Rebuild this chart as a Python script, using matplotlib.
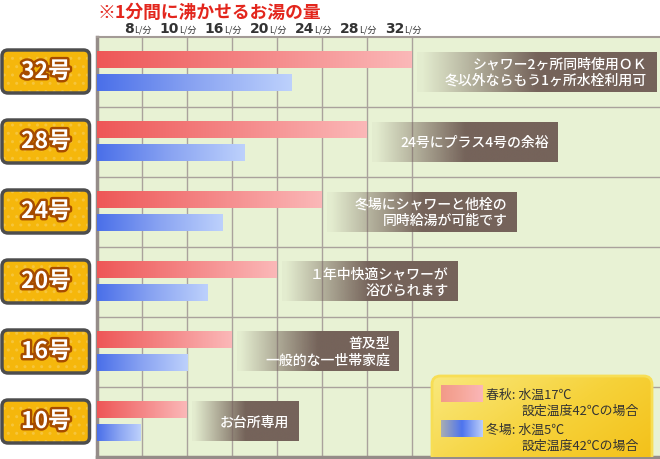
import numpy as np
import matplotlib
matplotlib.use('Agg')
import matplotlib.pyplot as plt
from matplotlib import patches, transforms
import matplotlib.patheffects as pe
from matplotlib.colors import LinearSegmentedColormap, to_rgb

plt.rcParams['font.family'] = ['Noto Sans CJK JP', 'DejaVu Sans']

# 号数と1分間に沸かせるお湯の量 (L/分)
models = ['32号', '28号', '24号', '20号', '16号', '10号']
spring_flow = [32, 28, 24, 20, 16, 10]          # 春秋: 水温17℃
winter_flow = [21.3, 17.1, 14.8, 12.8, 10.1, 7.8]  # 冬場: 水温5℃
tick_flow = [8, 10, 16, 20, 24, 28, 32]
notes = ['シャワー2ヶ所同時使用ＯＫ\n冬以外ならもう1ヶ所水栓利用可',
         '24号にプラス4号の余裕',
         '冬場にシャワーと他栓の\n同時給湯が可能です',
         '１年中快適シャワーが\n浴びられます',
         '普及型\n一般的な一世帯家庭',
         'お台所専用']
legend_head = ['春秋: 水温17℃', '冬場: 水温5℃']
legend_sub = '設定温度42℃の場合'

W, H = 660, 460
UX = 45.0   # px per grid column
UY = 70.0   # px per model row

# the grid is not linear in litres: every tick gets one column
def to_pos(v):
    return np.interp(v, [0] + tick_flow, np.arange(len(tick_flow) + 1))

red_cmap = LinearSegmentedColormap.from_list('r', ['#ee5757', '#f48686', '#fbb8b8'])
blue_cmap = LinearSegmentedColormap.from_list('b', ['#4a6fe9', '#8aa4f2', '#bdd1fc'])
legend_red = LinearSegmentedColormap.from_list('lr', ['#f29a88', '#f6a89c', '#fbb6b8'])
legend_blue = LinearSegmentedColormap.from_list('lb', ['#a9aeb2', '#4e74ee', '#bccffa'])
brown = to_rgb('#75635a')

fig = plt.figure(figsize=(W / 100, H / 100), dpi=100)
ax = fig.add_axes([97 / W, 2 / H, 1 - 97 / W, 420 / H])
ax.set_facecolor('#e8f2d4')

n = len(models)
y = np.arange(n)
red_pos = to_pos(spring_flow)
blue_pos = to_pos(winter_flow)

bh = 17 / UY
red_bars = ax.barh(y + 22.8 / UY, red_pos, height=bh, color='none', zorder=3)
blue_bars = ax.barh(y + 45.5 / UY, blue_pos, height=bh, color='none', zorder=3)

grad = np.linspace(0, 1, 256).reshape(1, -1)
for bars, cm in [(red_bars, red_cmap), (blue_bars, blue_cmap)]:
    for b in bars:
        x0, y0 = b.get_x(), b.get_y()
        ax.imshow(grad, cmap=cm, aspect='auto', zorder=3, interpolation='bilinear',
                  extent=[x0, x0 + b.get_width(), y0 + b.get_height(), y0])

xmax = (W - 97) / UX
ax.set_xlim(0, xmax)
ax.set_ylim(n, 0)

# grid
ax.set_xticks(to_pos(tick_flow))
ax.set_yticks(np.arange(1, n), minor=True)
ax.set_yticks([])
ax.tick_params(which='both', length=0, labelbottom=False, labelleft=False)
ax.grid(axis='x', color='#aaa29c', lw=1, zorder=1)
ax.grid(axis='y', which='minor', color='#aaa29c', lw=1, zorder=1)
for s in ['left', 'bottom']:
    ax.spines[s].set_color('#958c88')
    ax.spines[s].set_linewidth(2.5)
ax.spines['top'].set_color('#a39b96')
ax.spines['top'].set_linewidth(1.5)
ax.spines['right'].set_visible(False)

# top tick labels: "8L/分"
top_trans = transforms.blended_transform_factory(ax.transData, ax.transAxes)
num_trans = transforms.offset_copy(top_trans, fig=fig, x=-8, y=0, units='dots')
for t, p in zip(tick_flow, to_pos(tick_flow)):
    ax.text(p, 1 + 9 / 420, str(t), transform=num_trans, ha='right', va='center',
            fontsize=10, fontweight='bold', color='#333333', family='DejaVu Sans')
    ax.text(p, 1 + 8 / 420, 'L/分', transform=num_trans, ha='left', va='center',
            fontsize=6.5, color='#333333')

fig.text(97 / W, 1 - 13 / H, '※1分間に沸かせるお湯の量', ha='left', va='center',
         fontsize=12.8, fontweight='bold', color='#e3261d')

# comment boxes
fig.canvas.draw()
renderer = fig.canvas.get_renderer()
alpha = np.clip(np.linspace(0, 1, 256) / 0.5, 0.04, 1)
rgba = np.zeros((1, 256, 4))
rgba[..., :3] = brown
rgba[..., 3] = alpha
for i, note in enumerate(notes):
    left = red_pos[i] + 5 / UX
    top = i + 14.5 / UY
    bot = i + 54.5 / UY
    txt = ax.text(left + 28 / UX, i + 34.5 / UY, note, ha='left', va='center',
                  multialignment='right', fontsize=10, color='white',
                  fontweight='medium', linespacing=1.2, zorder=5)
    bb = txt.get_window_extent(renderer)
    right = ax.transData.inverted().transform((bb.x1 + 9, 0))[0]
    ax.imshow(rgba, aspect='auto', zorder=4, interpolation='bilinear',
              extent=[left, right, bot, top])
ax.set_xlim(0, xmax)
ax.set_ylim(n, 0)

# model badges on the left
lax = fig.add_axes([0, 2 / H, 97 / W, 420 / H])
lax.set_xlim(0, 97)
lax.set_ylim(n, 0)
lax.axis('off')
for i, m in enumerate(models):
    xy = (2, i + 13 / UY)
    kw = dict(boxstyle='round,pad=0,rounding_size=6', mutation_aspect=1 / UY)
    lax.add_patch(patches.FancyBboxPatch(xy, 87.5, 43 / UY, facecolor='#f5b70c',
                                         edgecolor='none', **kw))
    lax.add_patch(patches.FancyBboxPatch(xy, 87.5, 43 / UY, facecolor='none', hatch='..',
                                         edgecolor='#f6c53c', lw=0, **kw))
    lax.add_patch(patches.FancyBboxPatch(xy, 87.5, 43 / UY, facecolor='none',
                                         edgecolor='#4d4d4d', lw=2.5, **kw))
    lax.text(46, i + 34.5 / UY, m, ha='center', va='center', fontsize=16.5,
             fontweight='bold', color='white',
             path_effects=[pe.withStroke(linewidth=3.5, foreground='#a64b00')])

# legend box
lx0, lx1 = (432 - 97) / 563, (652 - 97) / 563
ly0, ly1 = -0.05, (458 - 377) / 420
box = patches.FancyBboxPatch((lx0, ly0), lx1 - lx0, ly1 - ly0, transform=ax.transAxes,
                             boxstyle='round,pad=0,rounding_size=0.015',
                             mutation_aspect=563 / 420, facecolor='none',
                             edgecolor='#f7de55', lw=2, zorder=6)
ax.add_patch(box)
gx, gy = np.meshgrid(np.linspace(0, 1, 64), np.linspace(0, 1, 32))
ycm = LinearSegmentedColormap.from_list('y', ['#f9e87c', '#f6d23a', '#f3be14'])
im = ax.imshow(gx * 0.6 + gy * 0.4, cmap=ycm, transform=ax.transAxes, aspect='auto',
               extent=[lx0, lx1, ly0, ly1], origin='upper', zorder=5, interpolation='bilinear')
im.set_clip_path(box)

sw_x0, sw_x1 = (441 - 97) / 563, (483 - 97) / 563
for k, (cm, ytop) in enumerate([(legend_red, 386), (legend_blue, 421)]):
    yb = (458 - ytop - 17) / 420
    ax.imshow(grad, cmap=cm, transform=ax.transAxes, aspect='auto', zorder=7,
              extent=[sw_x0, sw_x1, yb, yb + 17 / 420])
    ax.text((486 - 97) / 563, (458 - ytop - 9) / 420, legend_head[k], transform=ax.transAxes,
            ha='left', va='center', fontsize=9.3, color='#333333', zorder=8)
    ax.text((522 - 97) / 563, (458 - ytop - 25) / 420, legend_sub, transform=ax.transAxes,
            ha='left', va='center', fontsize=9.3, color='#333333', zorder=8)

ax.set_xlim(0, xmax)
ax.set_ylim(n, 0)
fig.savefig('out.png', dpi=100)
